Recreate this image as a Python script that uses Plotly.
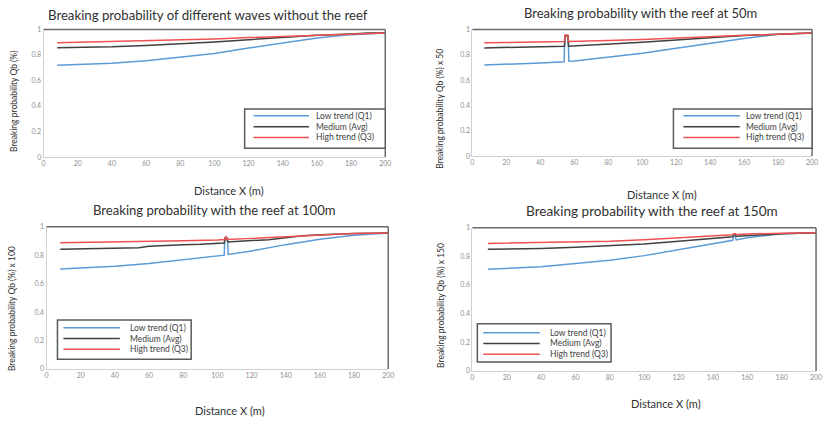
import plotly.graph_objects as go

# ---------------- data ----------------
series_names = ["Low trend (Q1)", "Medium (Avg)", "High trend (Q3)"]
panel_titles = [
    "Breaking probability of different waves without the reef",
    "Breaking probability with the reef at 50m",
    "Breaking probability with the reef at 100m",
    "Breaking probability with the reef at 150m",
]
y_titles = [
    "Breaking probability Qb (%)",
    "Breaking probability Qb (%) x 50",
    "Breaking probability Qb (%) x 100",
    "Breaking probability Qb (%) x 150",
]
x_title = "Distance X (m)"
x_ticks = [0, 20, 40, 60, 80, 100, 120, 140, 160, 180, 200]
x_tick_labels = ["0", "20", "40", "60", "80", "100", "120", "140", "160", "180", "200"]
y_ticks = [0, 0.2, 0.4, 0.6, 0.8, 1]
y_tick_labels = ["0", "0.2", "0.4", "0.6", "0.8", "1"]

# Panel 1: no reef
p1_x = [8, 20, 40, 60, 80, 100, 120, 140, 160, 180, 190, 200]
p1_low = [0.72, 0.724, 0.735, 0.755, 0.781, 0.812, 0.855, 0.896, 0.934, 0.96, 0.968, 0.972]
p1_med = [0.858, 0.859, 0.864, 0.874, 0.887, 0.902, 0.92, 0.938, 0.955, 0.965, 0.972, 0.972]
p1_high = [0.897, 0.9, 0.905, 0.91, 0.917, 0.926, 0.937, 0.947, 0.957, 0.965, 0.969, 0.972]

# Panel 2: reef at 50 m
p2_x_low = [7, 20, 40, 54, 54.4, 56.4, 56.8, 60, 80, 100, 120, 140, 160, 180, 200]
p2_low = [0.72, 0.725, 0.735, 0.745, 0.95, 0.95, 0.75, 0.752, 0.78, 0.812, 0.852, 0.892, 0.93, 0.962, 0.972]
p2_x = [7, 20, 40, 54.2, 54.6, 56.2, 56.6, 60, 80, 100, 120, 140, 160, 180, 200]
p2_med = [0.855, 0.857, 0.862, 0.868, 0.95, 0.95, 0.868, 0.87, 0.885, 0.9, 0.918, 0.936, 0.952, 0.962, 0.972]
p2_high = [0.895, 0.898, 0.902, 0.905, 0.957, 0.957, 0.905, 0.907, 0.913, 0.922, 0.934, 0.945, 0.955, 0.963, 0.972]

# Panel 3: reef at 100 m
p3_x_low = [8, 20, 40, 60, 80, 90, 104, 104.3, 106, 106.3, 110, 120, 140, 160, 180, 200]
p3_low = [0.702, 0.71, 0.722, 0.742, 0.768, 0.782, 0.8, 0.92, 0.92, 0.805, 0.812, 0.83, 0.874, 0.912, 0.94, 0.956]
p3_x_med = [8, 20, 40, 54, 60, 70, 80, 90, 104, 104.5, 105.5, 106, 110, 120, 130, 140, 150, 160, 170, 180, 200]
p3_med = [0.842, 0.844, 0.848, 0.852, 0.862, 0.869, 0.874, 0.876, 0.885, 0.918, 0.918, 0.893, 0.897, 0.903, 0.908, 0.922, 0.936, 0.943, 0.95, 0.952, 0.956]
p3_x_high = [8, 40, 60, 80, 100, 104.5, 105, 105.5, 120, 140, 160, 180, 200]
p3_high = [0.888, 0.892, 0.897, 0.902, 0.907, 0.91, 0.935, 0.91, 0.918, 0.93, 0.945, 0.952, 0.956]

# Panel 4: reef at 150 m
p4_x = [9, 20, 40, 60, 80, 100, 120, 140, 151.5, 152, 153, 153.5, 160, 180, 200]
p4_low = [0.71, 0.715, 0.728, 0.75, 0.772, 0.805, 0.847, 0.89, 0.912, 0.94, 0.94, 0.915, 0.93, 0.958, 0.965]
p4_med = [0.849, 0.85, 0.855, 0.863, 0.872, 0.886, 0.905, 0.925, 0.937, 0.952, 0.952, 0.94, 0.945, 0.957, 0.965]
p4_high = [0.89, 0.892, 0.896, 0.9, 0.906, 0.916, 0.928, 0.942, 0.95, 0.958, 0.958, 0.952, 0.956, 0.962, 0.965]

panels = [
    [(p1_x, p1_low), (p1_x, p1_med), (p1_x, p1_high)],
    [(p2_x_low, p2_low), (p2_x, p2_med), (p2_x, p2_high)],
    [(p3_x_low, p3_low), (p3_x_med, p3_med), (p3_x_high, p3_high)],
    [(p4_x, p4_low), (p4_x, p4_med), (p4_x, p4_high)],
]

# ---------------- styling / layout ----------------
W, H = 827, 422
FONT = "Lato"
colors = ["#5b9bd5", "#404040", "#f05050"]
text_col = "#404040"
tick_col = "#909090"


def px(x):
    return x / W


def py(y):
    return 1 - y / H


# plot areas in pixels: left, right, top, bottom
areas = [
    (42, 387, 25, 155),
    (475, 818, 25, 154),
    (45, 390, 226, 371),
    (475, 822, 227, 373),
]
title_pos = [(208, 10), (645, 8), (215, 209), (656, 210)]
title_size = [13.2, 13, 13.1, 13.6]
xtitle_pos = [(229, 189), (666, 193), (230, 413), (670, 406)]
ytitle_pos = [(12, 98), (442, 106), (10, 309), (443, 306)]
# legend: box (l, r, t, b), line x0, x1, text x, row ys
legends = [
    ((245, 387, 106, 146), 254, 310, 315, (113, 124, 135)),
    ((678, 818, 106, 146), 688, 745, 749, (113, 124, 135)),
    ((56, 191, 321, 361), 62, 119, 127, (329, 340, 351)),
    ((480, 615, 325, 364), 486, 543, 551, (334, 345, 356)),
]

fig = go.Figure()
layout = dict(
    width=W, height=H,
    margin=dict(l=0, r=0, t=0, b=0),
    paper_bgcolor="white", plot_bgcolor="white",
    showlegend=False,
    font=dict(family=FONT, color=text_col),
)
shapes = []
annotations = []

for i, (area, series) in enumerate(zip(areas, panels)):
    n = "" if i == 0 else str(i + 1)
    l, r, t, b = area
    layout["xaxis" + n] = dict(
        domain=[px(l), px(r)], range=[0, 200], anchor="y" + n,
        tickvals=x_ticks, ticktext=x_tick_labels,
        tickfont=dict(size=7, color=tick_col, family=FONT),
        showline=True, linecolor="#d0d0d0", linewidth=1,
        showgrid=False, zeroline=False, ticks="", fixedrange=True,
    )
    layout["yaxis" + n] = dict(
        domain=[py(b), py(t)], range=[0, 1], anchor="x" + n,
        tickvals=y_ticks, ticktext=y_tick_labels,
        tickfont=dict(size=7, color=tick_col, family=FONT),
        showline=True, linecolor="#d0d0d0", linewidth=1,
        showgrid=False, zeroline=False, ticks="", fixedrange=True,
    )
    for k, (xs, ys) in enumerate(series):
        fig.add_trace(go.Scatter(
            x=xs, y=ys, mode="lines", name=series_names[k],
            line=dict(color=colors[k], width=1.5),
            xaxis="x" + n, yaxis="y" + n, showlegend=False,
        ))
    # top & right frame
    shapes.append(dict(type="line", xref="x%s domain" % n, yref="y%s domain" % n,
                       x0=0, x1=1, y0=1, y1=1, line=dict(color="#6a6a6a", width=1.5)))
    shapes.append(dict(type="line", xref="x%s domain" % n, yref="y%s domain" % n,
                       x0=1, x1=1, y0=0, y1=1, line=dict(color="#6a6a6a", width=1.5)))
    # titles
    tx, ty = title_pos[i]
    annotations.append(dict(text=panel_titles[i], x=px(tx), y=py(ty), xref="paper", yref="paper",
                            showarrow=False, xanchor="center", yanchor="middle",
                            font=dict(size=title_size[i], color="#303030", family=FONT)))
    tx, ty = xtitle_pos[i]
    annotations.append(dict(text=x_title, x=px(tx), y=py(ty), xref="paper", yref="paper",
                            showarrow=False, xanchor="center", yanchor="middle",
                            font=dict(size=11, color="#303030", family=FONT)))
    tx, ty = ytitle_pos[i]
    annotations.append(dict(text=y_titles[i], x=px(tx), y=py(ty), xref="paper", yref="paper",
                            showarrow=False, xanchor="center", yanchor="middle", textangle=-90,
                            font=dict(size=8.5, color="#303030", family=FONT)))
    # legend
    (bl, br, bt, bb), lx0, lx1, ltx, rows = legends[i]
    shapes.append(dict(type="rect", xref="paper", yref="paper",
                       x0=px(bl), x1=px(br), y0=py(bb), y1=py(bt),
                       fillcolor="white", line=dict(color="#5a5a5a", width=1.5)))
    for k, ry in enumerate(rows):
        shapes.append(dict(type="line", xref="paper", yref="paper",
                           x0=px(lx0), x1=px(lx1), y0=py(ry), y1=py(ry),
                           line=dict(color=colors[k], width=1.5)))
        annotations.append(dict(text=series_names[k], x=px(ltx), y=py(ry), xref="paper", yref="paper",
                                showarrow=False, xanchor="left", yanchor="middle",
                                font=dict(size=8.5, color=text_col, family=FONT)))

layout["shapes"] = shapes
layout["annotations"] = annotations
fig.update_layout(**layout)
fig.write_html(
    "out.html",
    config={"displayModeBar": False},
    post_script="document.body.style.margin='0';document.body.style.overflow='hidden';",
)
